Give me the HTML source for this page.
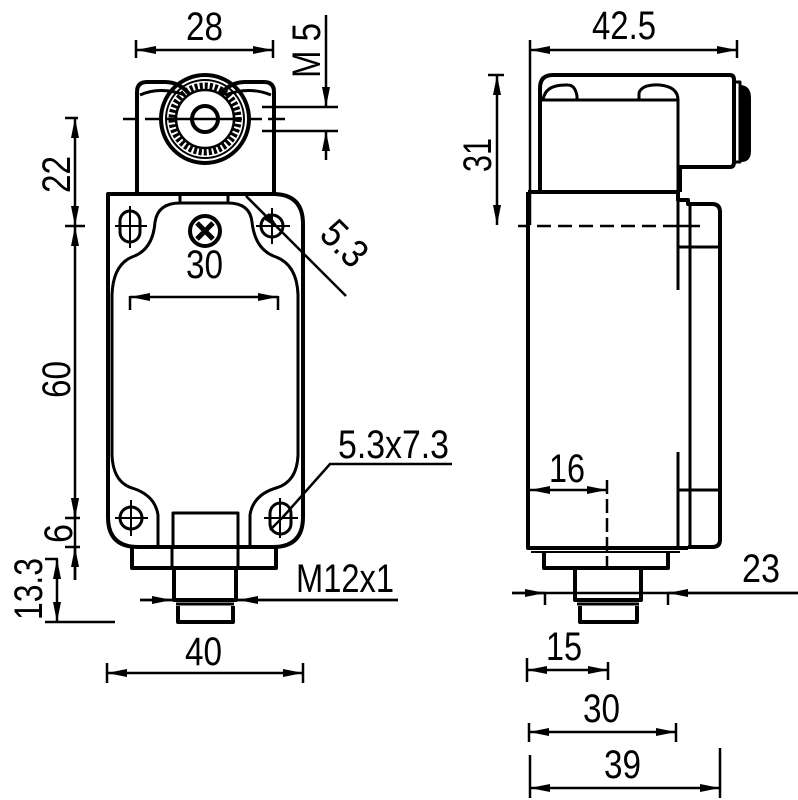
<!DOCTYPE html>
<html><head><meta charset="utf-8"><style>
html,body{margin:0;padding:0;background:#fff}
svg{display:block}
text{font-family:"Liberation Sans",sans-serif;font-size:40px;fill:#000}
</style></head><body>
<svg width="798" height="800" viewBox="0 0 798 800" xmlns="http://www.w3.org/2000/svg">
<defs>
<marker id="a" viewBox="0 0 20 10" refX="20" refY="5" markerWidth="20" markerHeight="10" markerUnits="userSpaceOnUse" orient="auto-start-reverse"><path d="M0,1 L20,5 L0,9 Z" fill="#000"/></marker>
</defs>
<g fill="none" stroke="#000" stroke-width="4" stroke-linejoin="round">
<!-- LEFT VIEW head -->
<path d="M137,193 V92 Q137,82 147,82 H165 Q180,82 190,95 M220,95 Q230,82 245,82 H264 Q274,82 274,92 V193"/>
<path d="M140,95 Q160,86 185,95" stroke-width="3"/>
<path d="M225,95 Q250,86 271,95" stroke-width="3"/>
<circle cx="205" cy="119" r="44"/>
<circle cx="205" cy="119" r="39" stroke-width="2"/>
<circle cx="205" cy="119" r="33" stroke-width="7" stroke-dasharray="3 2"/>
<circle cx="205" cy="119" r="29" stroke-width="2.5"/>
<circle cx="205" cy="119" r="13"/>
<!-- body -->
<path d="M136,194 H274 M138,194 H108 Q108,194 108,224 V517 Q108,547 138,547 H273 Q303,547 303,517 V224 Q303,194 273,194"/>
<path d="M180,194 V203 H228 V194" stroke-width="3"/>
<path d="M180,203 Q158,203 155,222 Q153,250 132,257 Q113,265 112,295 V455 Q113,482 132,488 Q155,495 158,515 V547" stroke-width="3"/>
<path d="M228,203 Q250,203 252,222 Q255,250 276,257 Q297,265 298,295 V455 Q297,482 276,488 Q253,495 250,515 V547" stroke-width="3"/>
<rect x="173" y="513" width="65" height="34" stroke-width="3"/>
<!-- holes -->
<rect x="120" y="211" width="20" height="31" rx="10" stroke-width="3"/>
<circle cx="272" cy="226" r="11" stroke-width="3"/>
<circle cx="131" cy="518" r="11" stroke-width="3"/>
<rect x="270" y="503" width="21" height="31" rx="10.5" stroke-width="3"/>
<path d="M115,226 H147 M130,206 V248 M256,226 H290 M272,208 V244 M115,518 H148 M131,500 V536 M264,518 H298 M280,498 V538" stroke-width="2"/>
<circle cx="205" cy="231" r="15"/>
<path d="M197,223 L213,239 M213,223 L197,239" stroke-width="5"/>
<!-- flange/connector left -->
<path d="M132,547 V568 H276 V547" />
<path d="M172,547 V568 M238,547 V568" stroke-width="3"/>
<path d="M174,568 V600 H236 V568"/>
<path d="M176,604 H234" stroke-width="3"/>
<path d="M178,606 V622 H233 V606"/>
<!-- center dashes left -->
<path d="M123,119 H137 M145,119 H160 M167,119 H242 M250,119 H262 M268,119 H285" stroke-width="2.5"/>

<!-- RIGHT VIEW -->
<path d="M540,192 V88 Q540,75 553,75 H730 Q734,75 734,80 V162 Q734,167 730,167 H680 V192"/>
<path d="M543,100 Q545,84 568,85 Q575,85 577,96 V100 H543 Z" stroke-width="3"/>
<path d="M639,100 V93 Q642,84 660,85 Q678,87 678,100" stroke-width="3"/>
<path d="M540,100 H678 V192" stroke-width="3"/>
<path d="M733,82 H740 V162 H733" stroke-width="3"/>
<path d="M741,87 Q749,88 749,98 V151 Q749,160 741,160 Z" fill="#000"/>
<path d="M528,192 H678 V200 H688 V204 H712 Q720,204 720,212 V540 Q720,547 712,547 H688 M528,192 V548 H688" />
<path d="M678,200 V290 M678,452 V548 M690,204 V547 M678,247 H720 M678,490 H720" stroke-width="3"/>
<path d="M531,552 H680" stroke-width="2"/>
<path d="M544,552 V568 H668 V552"/>
<path d="M575,568 V600 H641 V568"/>
<path d="M577,604 H639" stroke-width="3"/>
<path d="M580,606 V622 H637 V606"/>
<path d="M607,480 V568" stroke-width="2.5" stroke-dasharray="14 5"/>
<path d="M518,226 H530 M537,226 H551 M558,226 H572 M579,226 H593 M600,226 H614 M621,226 H635 M642,226 H656 M663,226 H700" stroke-width="2.5"/>
</g>

<!-- DIMENSIONS -->
<g fill="none" stroke="#000" stroke-width="2.5">
<path d="M136,40 V58 M273,40 V58"/>
<path d="M136,50 H273" marker-start="url(#a)" marker-end="url(#a)"/>
<path d="M326,15 V107" marker-end="url(#a)"/>
<path d="M326,160 V131" marker-end="url(#a)"/>
<path d="M262,107 H338 M262,131 H338"/>
<path d="M65,118 H78 M65,226 H85 M65,518 H80 M65,547 H80"/>
<path d="M75,118 V226" marker-start="url(#a)" marker-end="url(#a)"/>
<path d="M75,226 V518" marker-start="url(#a)" marker-end="url(#a)"/>
<path d="M75,500 V518" marker-end="url(#a)"/>
<path d="M75,580 V547" marker-end="url(#a)"/>
<path d="M75,518 V580"/>
<path d="M45,559 H58 M45,622 H115"/>
<path d="M57,559 V622" marker-start="url(#a)" marker-end="url(#a)"/>
<path d="M130,296 V310 M278,296 V310"/>
<path d="M130,297 H278" marker-start="url(#a)" marker-end="url(#a)"/>
<path d="M107,663 V683 M303,663 V683"/>
<path d="M107,673 H303" marker-start="url(#a)" marker-end="url(#a)"/>
<path d="M246,196 L346,296"/>
<path d="M248,198 L280,230" marker-end="url(#a)"/>
<path d="M452,464 H330 L283,517"/>
<path d="M283,517 L270,530" />
<path d="M140,600 H398"/>
<path d="M140,600 H172" marker-end="url(#a)"/>
<path d="M398,600 H238" marker-end="url(#a)"/>
<!-- right -->
<path d="M530,40 V225 M737,40 V58"/>
<path d="M530,50 H737" marker-start="url(#a)" marker-end="url(#a)"/>
<path d="M488,75 H504"/>
<path d="M497,75 V225" marker-start="url(#a)" marker-end="url(#a)"/>
<path d="M530,490 H607" marker-start="url(#a)" marker-end="url(#a)"/>
<path d="M512,593 H798"/>
<path d="M512,593 H545" marker-end="url(#a)"/>
<path d="M798,593 H668" marker-end="url(#a)"/>
<path d="M545,593 V605 M668,593 V605"/>
<path d="M527,658 V682 M608,662 V680"/>
<path d="M527,670 H608" marker-start="url(#a)" marker-end="url(#a)"/>
<path d="M529,723 V742 M676,723 V742"/>
<path d="M529,732 H676" marker-start="url(#a)" marker-end="url(#a)"/>
<path d="M530,755 V798 M720,748 V798"/>
<path d="M530,788 H720" marker-start="url(#a)" marker-end="url(#a)"/>
</g>

<g>
<text x="186" y="40" textLength="37" lengthAdjust="spacingAndGlyphs">28</text>
<text transform="translate(320,78) rotate(-90)" textLength="55" lengthAdjust="spacingAndGlyphs">M 5</text>
<text transform="translate(70,193) rotate(-90)" textLength="37" lengthAdjust="spacingAndGlyphs">22</text>
<text transform="translate(70,398) rotate(-90)" textLength="37" lengthAdjust="spacingAndGlyphs">60</text>
<text transform="translate(72,543) rotate(-90)" textLength="19" lengthAdjust="spacingAndGlyphs">6</text>
<text transform="translate(42,620) rotate(-90)" textLength="62" lengthAdjust="spacingAndGlyphs">13.3</text>
<text x="186" y="278" textLength="37" lengthAdjust="spacingAndGlyphs">30</text>
<text transform="translate(318,236) rotate(45)" textLength="48" lengthAdjust="spacingAndGlyphs">5.3</text>
<text x="338" y="458" textLength="111" lengthAdjust="spacingAndGlyphs">5.3x7.3</text>
<text x="296" y="592" textLength="98" lengthAdjust="spacingAndGlyphs">M12x1</text>
<text x="185" y="665" textLength="37" lengthAdjust="spacingAndGlyphs">40</text>
<text x="592" y="39" textLength="64" lengthAdjust="spacingAndGlyphs">42.5</text>
<text transform="translate(491,172) rotate(-90)" textLength="34" lengthAdjust="spacingAndGlyphs">31</text>
<text x="549" y="482" textLength="36" lengthAdjust="spacingAndGlyphs">16</text>
<text x="742" y="582" textLength="38" lengthAdjust="spacingAndGlyphs">23</text>
<text x="546" y="660" textLength="36" lengthAdjust="spacingAndGlyphs">15</text>
<text x="583" y="722" textLength="37" lengthAdjust="spacingAndGlyphs">30</text>
<text x="604" y="778" textLength="37" lengthAdjust="spacingAndGlyphs">39</text>
</g>
</svg>
</body></html>
